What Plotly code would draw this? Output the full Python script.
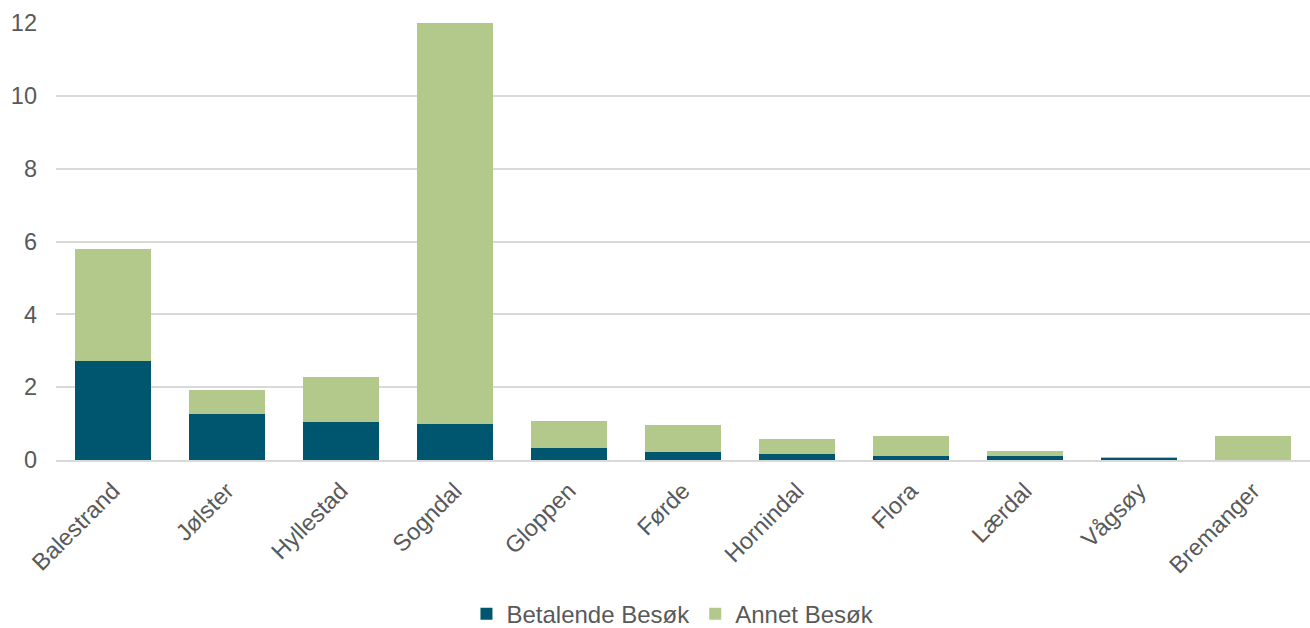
import plotly.graph_objects as go

categories = ["Balestrand", "Jølster", "Hyllestad", "Sogndal", "Gloppen", "Førde",
              "Hornindal", "Flora", "Lærdal", "Vågsøy", "Bremanger"]
betalende = [2.73, 1.26, 1.03, 0.98, 0.34, 0.23, 0.16, 0.12, 0.10, 0.07, 0.0]
annet = [3.07, 0.67, 1.25, 11.02, 0.73, 0.74, 0.42, 0.53, 0.14, 0.01, 0.65]
y_ticks = [0, 2, 4, 6, 8, 10, 12]

font_family = "Liberation Sans, Arial, sans-serif"
text_color = "#595959"

fig = go.Figure()
fig.add_trace(go.Bar(x=categories, y=betalende, name="Betalende Besøk",
                     marker=dict(color="#00566e", line=dict(width=0))))
fig.add_trace(go.Bar(x=categories, y=annet, name="Annet Besøk",
                     marker=dict(color="#b3c98b", line=dict(width=0))))

fig.update_layout(
    barmode="stack",
    bargap=0.33,
    width=1310, height=628,
    margin=dict(l=56, r=0, t=23, b=168),
    plot_bgcolor="white", paper_bgcolor="white",
    font=dict(family=font_family, size=24, color=text_color),
    legend=dict(orientation="h", x=0.492, xanchor="center",
                yref="container", y=0.022, yanchor="middle",
                font=dict(size=24, color=text_color), itemwidth=30, traceorder="normal"),
    showlegend=True,
)
fig.update_xaxes(tickangle=-45, showgrid=False, showline=True, linecolor="#d9d9d9",
                 linewidth=1.5, ticks="", automargin=False, ticklabelstandoff=6,
                 tickfont=dict(size=23.5, color=text_color))
fig.update_yaxes(range=[0, 12], tickvals=y_ticks, showgrid=True, gridcolor="#d9d9d9",
                 gridwidth=1.5, zeroline=False, showline=False, ticks="", automargin=False,
                 tickfont=dict(size=23.5, color=text_color), ticklabelstandoff=18)

fig.write_html("out.html", config={"displayModeBar": False},
               post_script="document.body.style.margin='0';")
